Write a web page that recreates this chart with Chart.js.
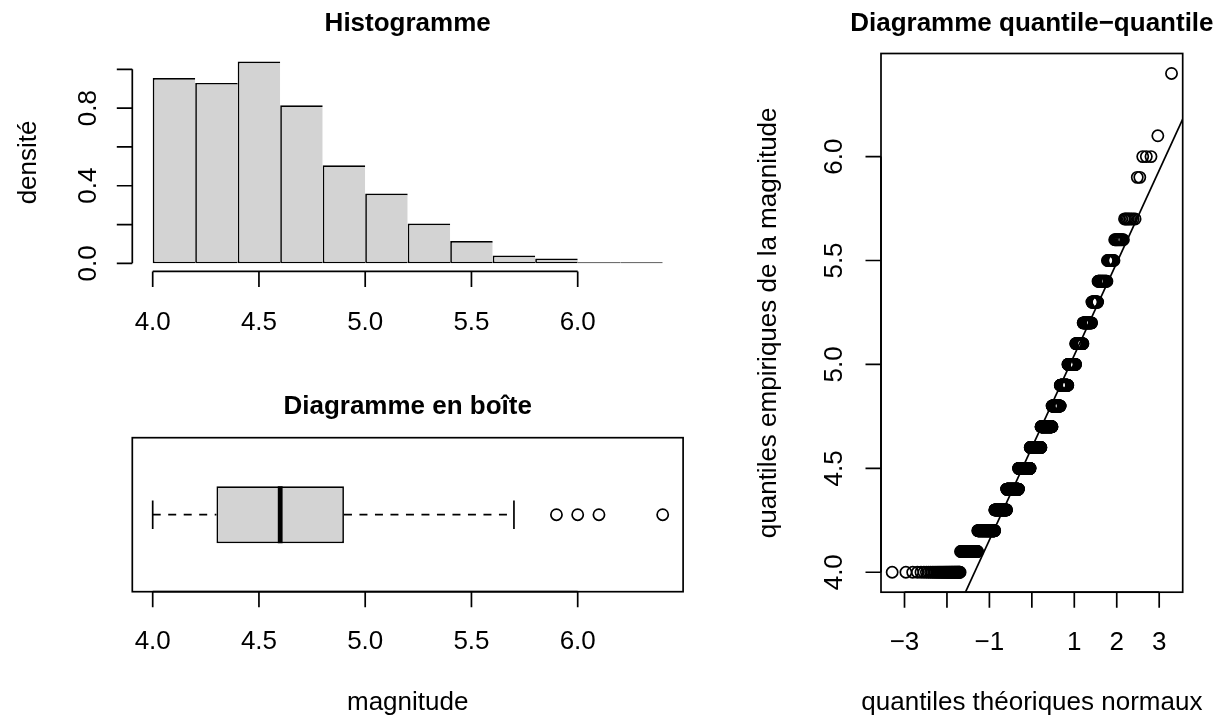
<!DOCTYPE html>
<html>
<head>
<meta charset="utf-8">
<script src="https://cdn.jsdelivr.net/npm/chart.js@4/dist/chart.umd.min.js"></script>
<style>
html,body{margin:0;padding:0;background:#ffffff;}
#wrap{position:relative;width:1223px;height:719px;overflow:hidden;background:#ffffff;}
#wrap canvas{position:absolute;left:0;top:0;}
</style>
</head>
<body>
<div id="wrap">
<canvas id="hist" width="1223" height="719"></canvas>
<canvas id="box" width="1223" height="719"></canvas>
<canvas id="qq" width="1223" height="719"></canvas>
</div>
<script>
// ---------------- data ----------------
const magnitudeValues = [4.0,4.1,4.2,4.3,4.4,4.5,4.6,4.7,4.8,4.9,5.0,5.1,5.2,5.3,5.4,5.5,5.6,5.7,5.9,6.0,6.1,6.4];
const magnitudeCounts = [46,55,90,85,101,107,101,98,65,54,47,37,35,19,22,12,11,8,2,3,1,1];

const histBreaks  = [4.0,4.2,4.4,4.6,4.8,5.0,5.2,5.4,5.6,5.8,6.0,6.2,6.4];
const histDensity = [0.955,0.93,1.04,0.815,0.505,0.36,0.205,0.115,0.04,0.025,0.005,0.005];

// lower whisker, Q1, median, Q3, upper whisker
const boxStats    = [4.0,4.3,4.6,4.9,5.7];
const boxOutliers = [5.9,6.0,6.1,6.4];

const histXTicks      = [4.0,4.5,5.0,5.5,6.0];
const histXTickLabels = ['4.0','4.5','5.0','5.5','6.0'];
const histYTicks      = [0,0.2,0.4,0.6,0.8,1.0];
const histYTickLabels = ['0.0','','0.4','','0.8',''];
const boxXTicks       = [4.0,4.5,5.0,5.5,6.0];
const boxXTickLabels  = ['4.0','4.5','5.0','5.5','6.0'];
const qqXTicks        = [-3,-2,-1,0,1,2,3];
const qqXTickLabels   = ['\u22123','','\u22121','','1','2','3'];
const qqYTicks        = [4.0,4.5,5.0,5.5,6.0];
const qqYTickLabels   = ['4.0','4.5','5.0','5.5','6.0'];

// ---------------- helpers ----------------
const FONT = '"Liberation Sans", Arial, Helvetica, sans-serif';
const LABEL_PX = 26, TITLE_PX = 26, TICK = 15.5, LW = 1.7, PT_R = 5.6;
const FILL = '#D3D3D3';

function qnorm(p){
  const a=[-3.969683028665376e+01,2.209460984245205e+02,-2.759285104469687e+02,1.383577518672690e+02,-3.066479806614716e+01,2.506628277459239e+00];
  const b=[-5.447609879822406e+01,1.615858368580409e+02,-1.556989798598866e+02,6.680131188771972e+01,-1.328068155288572e+01];
  const c=[-7.784894002430293e-03,-3.223964580411365e-01,-2.400758277161838e+00,-2.549732539343734e+00,4.374664141464968e+00,2.938163982698783e+00];
  const d=[7.784695709041462e-03,3.224671290700398e-01,2.445134137142996e+00,3.754408661907416e+00];
  const pl=0.02425, ph=1-pl; let q,r;
  if(p<pl){q=Math.sqrt(-2*Math.log(p));return (((((c[0]*q+c[1])*q+c[2])*q+c[3])*q+c[4])*q+c[5])/((((d[0]*q+d[1])*q+d[2])*q+d[3])*q+1);}
  if(p<=ph){q=p-0.5;r=q*q;return (((((a[0]*r+a[1])*r+a[2])*r+a[3])*r+a[4])*r+a[5])*q/(((((b[0]*r+b[1])*r+b[2])*r+b[3])*r+b[4])*r+1);}
  q=Math.sqrt(-2*Math.log(1-p));return -(((((c[0]*q+c[1])*q+c[2])*q+c[3])*q+c[4])*q+c[5])/((((d[0]*q+d[1])*q+d[2])*q+d[3])*q+1);
}
function quantile7(sorted,p){const h=(sorted.length-1)*p, lo=Math.floor(h); const hi=Math.min(lo+1,sorted.length-1); return sorted[lo]+(h-lo)*(sorted[hi]-sorted[lo]);}
function ext(lo,hi){const d=(hi-lo)*0.04;return [lo-d,hi+d];}

// R-like axes, frame and text
const rStyle = {
  id:'rStyle',
  afterDraw(chart,args,o){
    const ctx=chart.ctx, ca=chart.chartArea;
    ctx.save();
    ctx.strokeStyle='#000'; ctx.fillStyle='#000'; ctx.lineWidth=LW; ctx.lineCap='butt';
    if(o.frame){ctx.strokeRect(ca.left,ca.top,ca.right-ca.left,ca.bottom-ca.top);}
    (o.axes||[]).forEach(a=>{
      const sc=chart.scales[a.scale];
      const px=a.ticks.map(v=>sc.getPixelForValue(v));
      ctx.beginPath();
      if(a.side==='bottom'){
        const y=ca.bottom;
        ctx.moveTo(px[0],y); ctx.lineTo(px[px.length-1],y);
        px.forEach(p=>{ctx.moveTo(p,y);ctx.lineTo(p,y+TICK);});
      } else {
        const x=ca.left;
        ctx.moveTo(x,px[0]); ctx.lineTo(x,px[px.length-1]);
        px.forEach(p=>{ctx.moveTo(x,p);ctx.lineTo(x-TICK,p);});
      }
      ctx.stroke();
      ctx.font=LABEL_PX+'px '+FONT; ctx.textAlign='center'; ctx.textBaseline='alphabetic';
      a.labels.forEach((lab,i)=>{
        if(!lab) return;
        if(a.side==='bottom'){ctx.fillText(lab,px[i],ca.bottom+a.offset);}
        else {ctx.save();ctx.translate(ca.left-a.offset,px[i]);ctx.rotate(-Math.PI/2);ctx.fillText(lab,0,0);ctx.restore();}
      });
    });
    const cx=(ca.left+ca.right)/2, cy=(ca.top+ca.bottom)/2;
    (o.texts||[]).forEach(t=>{
      ctx.font=(t.bold?'bold ':'')+(t.size||LABEL_PX)+'px '+FONT;
      ctx.textAlign='center'; ctx.textBaseline='alphabetic';
      if(t.rotate){ctx.save();ctx.translate(t.x,cy);ctx.rotate(-Math.PI/2);ctx.fillText(t.text,0,0);ctx.restore();}
      else ctx.fillText(t.text,cx,t.y);
    });
    ctx.restore();
  }
};

const baseOpts = (pad)=>({
  responsive:false, animation:false, devicePixelRatio:1, events:[],
  layout:{padding:pad},
  plugins:{legend:{display:false},tooltip:{enabled:false},title:{display:false}}
});

// ---------------- histogram ----------------
const histX = ext(histBreaks[0],histBreaks[histBreaks.length-1]);
const histY = ext(0,Math.max(...histDensity));
const lastBar = histDensity.length-1;
new Chart(document.getElementById('hist'),{
  type:'bar',
  data:{datasets:[{
    data:histDensity.map((d,i)=>({x:(histBreaks[i]+histBreaks[i+1])/2,y:d})),
    backgroundColor:FILL, borderColor:'#000',
    borderWidth:(c)=>({left:LW,top:LW,bottom:LW,right:c.dataIndex===lastBar?LW:0}),
    borderSkipped:false, barThickness:'flex', categoryPercentage:1, barPercentage:1, inflateAmount:0
  }]},
  options:Object.assign(baseOpts({left:132.3,top:53.5,right:1223-683.1,bottom:719-271.4}),{
    scales:{
      x:{type:'linear',min:histX[0],max:histX[1],offset:false,display:false,
         afterBuildTicks:s=>{s.ticks=histXTicks.map(v=>({value:v}));}},
      y:{type:'linear',min:histY[0],max:histY[1],offset:false,display:false}
    },
    plugins:{legend:{display:false},tooltip:{enabled:false},
      rStyle:{frame:false,
        axes:[{scale:'x',side:'bottom',ticks:histXTicks,labels:histXTickLabels,offset:58.5},
              {scale:'y',side:'left',ticks:histYTicks,labels:histYTickLabels,offset:36}],
        texts:[{text:'Histogramme',bold:true,size:TITLE_PX,y:31},
               {text:'densit\u00e9',rotate:true,x:36}]}}
  }),
  plugins:[rStyle]
});

// ---------------- box plot ----------------
const BOX_AT=1, BOX_HALF=0.2, STAPLE_HALF=0.1;
const boxX = ext(Math.min(boxStats[0],...boxOutliers),Math.max(boxStats[4],...boxOutliers));
const seg=(x1,y1,x2,y2,extra)=>Object.assign({data:[{x:x1,y:y1},{x:x2,y:y2}],showLine:true,pointRadius:0,borderColor:'#000',borderWidth:LW,borderCapStyle:'butt',order:1},extra||{});
new Chart(document.getElementById('box'),{
  type:'scatter',
  data:{datasets:[
    seg(boxStats[2],BOX_AT-BOX_HALF,boxStats[2],BOX_AT+BOX_HALF,{borderWidth:4.8,order:0}),
    {data:boxOutliers.map(v=>({x:v,y:BOX_AT})),pointRadius:PT_R,pointStyle:'circle',pointBorderColor:'#000',pointBackgroundColor:'rgba(0,0,0,0)',pointBorderWidth:LW,showLine:false,order:0},
    seg(boxStats[0],BOX_AT,boxStats[1],BOX_AT,{borderDash:[8,7.5]}),
    seg(boxStats[3],BOX_AT,boxStats[4],BOX_AT,{borderDash:[8,7.5]}),
    seg(boxStats[0],BOX_AT-STAPLE_HALF,boxStats[0],BOX_AT+STAPLE_HALF),
    seg(boxStats[4],BOX_AT-STAPLE_HALF,boxStats[4],BOX_AT+STAPLE_HALF),
    {type:'bar',indexAxis:'y',data:[{x:[boxStats[1],boxStats[3]],y:BOX_AT}],backgroundColor:FILL,borderColor:'#000',borderWidth:LW,borderSkipped:false,barThickness:57,inflateAmount:0,order:5}
  ]},
  options:Object.assign(baseOpts({left:132.3,top:437.7,right:1223-683.1,bottom:719-591.7}),{
    scales:{
      x:{type:'linear',min:boxX[0],max:boxX[1],offset:false,display:false,grid:{offset:false}},
      y:{type:'linear',min:0.46,max:1.54,offset:false,display:false,grid:{offset:false}}
    },
    plugins:{legend:{display:false},tooltip:{enabled:false},
      rStyle:{frame:true,
        axes:[{scale:'x',side:'bottom',ticks:boxXTicks,labels:boxXTickLabels,offset:57.5}],
        texts:[{text:'Diagramme en bo\u00eete',bold:true,size:TITLE_PX,y:414},
               {text:'magnitude',y:710}]}}
  }),
  plugins:[rStyle]
});

// ---------------- normal QQ plot ----------------
const sortedMag=[];
magnitudeValues.forEach((v,i)=>{for(let k=0;k<magnitudeCounts[i];k++) sortedMag.push(v);});
const nMag=sortedMag.length;
const qqPoints=sortedMag.map((v,i)=>({x:qnorm((i+0.5)/nMag),y:v}));
const qqX=ext(qqPoints[0].x,qqPoints[nMag-1].x);
const qqY=ext(sortedMag[0],sortedMag[nMag-1]);
const q25=qnorm(0.25), q75=qnorm(0.75);
const d25=quantile7(sortedMag,0.25), d75=quantile7(sortedMag,0.75);
const slope=(d75-d25)/(q75-q25), icpt=d25-slope*q25;
new Chart(document.getElementById('qq'),{
  type:'scatter',
  data:{datasets:[
    {data:[{x:qqX[0],y:icpt+slope*qqX[0]},{x:qqX[1],y:icpt+slope*qqX[1]}],showLine:true,pointRadius:0,borderColor:'#000',borderWidth:LW,order:0},
    {data:qqPoints,pointRadius:PT_R,pointStyle:'circle',pointBorderColor:'#000',pointBackgroundColor:'rgba(0,0,0,0)',pointBorderWidth:LW,showLine:false,order:1}
  ]},
  options:Object.assign(baseOpts({left:881,top:53.5,right:1223-1182.7,bottom:719-592.2}),{
    scales:{
      x:{type:'linear',min:qqX[0],max:qqX[1],display:false},
      y:{type:'linear',min:qqY[0],max:qqY[1],display:false}
    },
    plugins:{legend:{display:false},tooltip:{enabled:false},
      rStyle:{frame:true,
        axes:[{scale:'x',side:'bottom',ticks:qqXTicks,labels:qqXTickLabels,offset:57.5},
              {scale:'y',side:'left',ticks:qqYTicks,labels:qqYTickLabels,offset:39}],
        texts:[{text:'Diagramme quantile\u2212quantile',bold:true,size:TITLE_PX,y:31},
               {text:'quantiles th\u00e9oriques normaux',y:710},
               {text:'quantiles empiriques de la magnitude',rotate:true,x:776}]}}
  }),
  plugins:[rStyle]
});
</script>
</body>
</html>
